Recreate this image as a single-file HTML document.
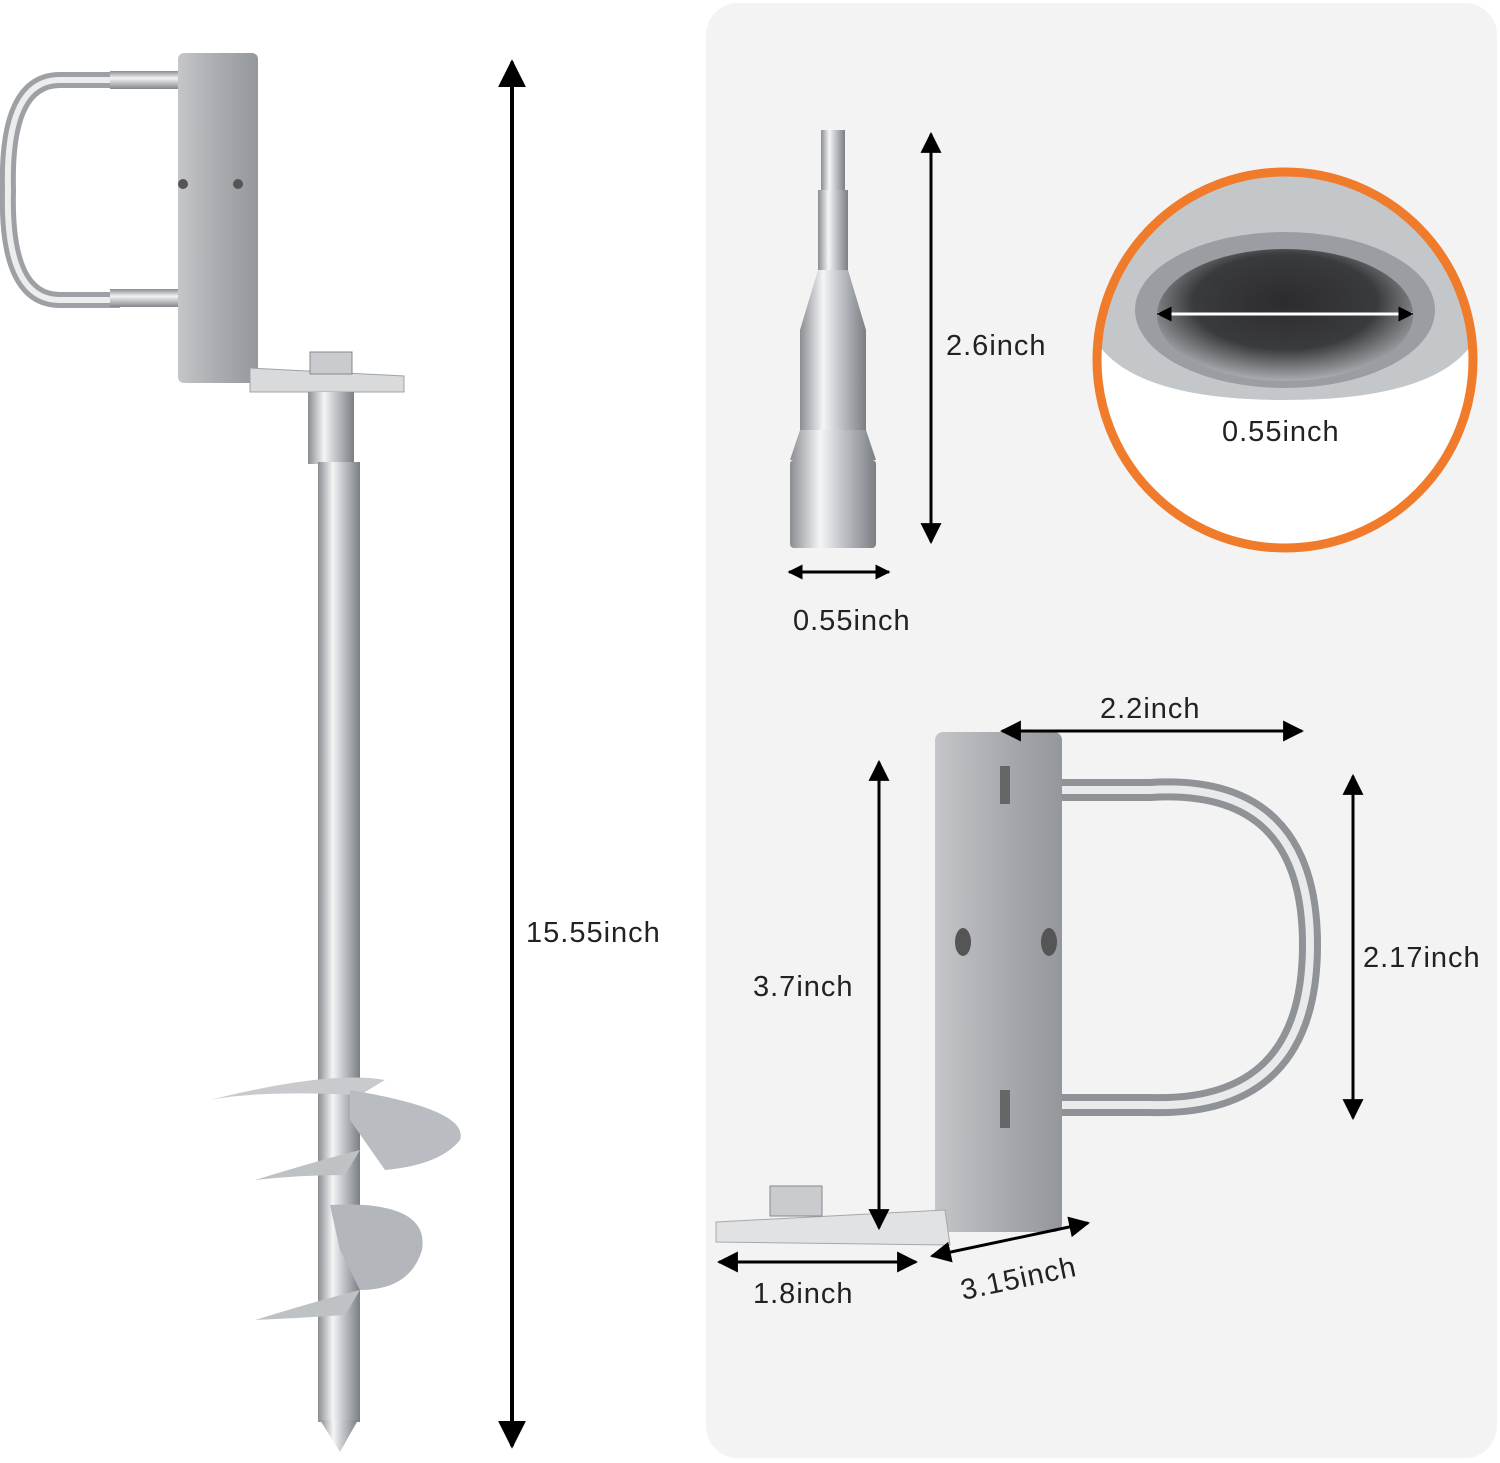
<!DOCTYPE html>
<html><head><meta charset="utf-8"><style>
html,body{margin:0;padding:0;background:#fff;}
svg{display:block;}
text{font-family:"Liberation Sans",sans-serif;fill:#222;letter-spacing:1px;}
</style></head><body>
<svg width="1500" height="1463" viewBox="0 0 1500 1463" xmlns="http://www.w3.org/2000/svg">
<defs>
<linearGradient id="metalH" x1="0" x2="1" y1="0" y2="0">
<stop offset="0" stop-color="#8a8d92"/><stop offset="0.35" stop-color="#f4f5f6"/><stop offset="0.6" stop-color="#c2c5c9"/><stop offset="1" stop-color="#7b7e83"/></linearGradient>
<linearGradient id="metalV" x1="0" x2="0" y1="0" y2="1">
<stop offset="0" stop-color="#8a8d92"/><stop offset="0.4" stop-color="#f2f3f4"/><stop offset="1" stop-color="#83868b"/></linearGradient>
<linearGradient id="plate" x1="0" x2="1">
<stop offset="0" stop-color="#c4c6c9"/><stop offset="0.5" stop-color="#a9acb0"/><stop offset="1" stop-color="#94979b"/></linearGradient>
<radialGradient id="sock" cx="0.5" cy="0.4" r="0.6">
<stop offset="0" stop-color="#2c2c2e"/><stop offset="0.6" stop-color="#3a3b3d"/><stop offset="1" stop-color="#a9acb0"/></radialGradient>
<clipPath id="cc"><circle cx="1285" cy="360" r="186"/></clipPath>
<marker id="ah" viewBox="0 0 10 10" refX="9" refY="5" markerWidth="7" markerHeight="7" orient="auto-start-reverse"><path d="M0,0 L10,5 L0,10 z" fill="#000"/></marker>
<marker id="ahs" viewBox="0 0 10 10" refX="9" refY="5" markerWidth="5" markerHeight="5" orient="auto-start-reverse"><path d="M0,0 L10,5 L0,10 z" fill="#000"/></marker>
</defs>

<rect x="706" y="3" width="791" height="1455" rx="32" fill="#f3f3f3"/>

<!-- LEFT: auger -->
<path d="M120,80 L60,80 Q5,80 8,190 Q5,300 60,300 L120,300" fill="none" stroke="#9da0a4" stroke-width="16"/>
<path d="M120,80 L60,80 Q5,80 8,190 Q5,300 60,300 L120,300" fill="none" stroke="#eceded" stroke-width="6"/>
<rect x="110" y="71" width="110" height="18" fill="url(#metalV)"/>
<rect x="110" y="289" width="110" height="18" fill="url(#metalV)"/>
<rect x="178" y="53" width="80" height="330" rx="6" fill="url(#plate)"/>
<circle cx="183" cy="184" r="5" fill="#555"/><circle cx="238" cy="184" r="5" fill="#555"/>
<path d="M250,368 L404,376 L404,392 L250,392 Z" fill="#d8dadc" stroke="#a0a3a7"/>
<rect x="310" y="352" width="42" height="22" fill="#c9cbce" stroke="#888"/>
<rect x="308" y="392" width="46" height="72" fill="url(#metalH)"/>
<rect x="318" y="462" width="42" height="960" fill="url(#metalH)"/>
<path d="M320,1420 L358,1420 L340,1452 Z" fill="url(#metalH)"/>
<path d="M210,1100 Q330,1070 385,1080 L360,1095 Q260,1090 210,1100 Z" fill="#c8cacd"/>
<path d="M350,1090 Q470,1110 460,1140 Q440,1165 385,1170 L350,1120 Z" fill="#b9bcc0"/>
<path d="M255,1180 Q320,1160 360,1150 L345,1175 Q300,1175 255,1180 Z" fill="#bfc2c5"/>
<path d="M330,1205 Q430,1200 422,1250 Q410,1290 360,1290 L340,1250 Z" fill="#b3b6ba"/>
<path d="M255,1320 Q320,1300 360,1290 L345,1315 Q300,1318 255,1320 Z" fill="#bfc2c5"/>

<line x1="512" y1="62" x2="512" y2="1446" stroke="#000" stroke-width="4" marker-start="url(#ah)" marker-end="url(#ah)"/>
<text x="526" y="942" font-size="29">15.55inch</text>

<!-- bit socket -->
<rect x="821" y="130" width="24" height="60" fill="url(#metalH)"/>
<rect x="818" y="190" width="30" height="80" fill="url(#metalH)"/>
<path d="M818,270 L800,330 L866,330 L848,270 Z" fill="url(#metalH)"/>
<rect x="800" y="330" width="66" height="100" fill="url(#metalH)"/>
<path d="M800,430 L790,460 L876,460 L866,430 Z" fill="url(#metalH)"/>
<rect x="790" y="460" width="86" height="88" rx="4" fill="url(#metalH)"/>
<line x1="931" y1="134" x2="931" y2="542" stroke="#000" stroke-width="3" marker-start="url(#ah)" marker-end="url(#ah)"/>
<text x="946" y="355" font-size="29">2.6inch</text>
<line x1="789" y1="572" x2="889" y2="572" stroke="#000" stroke-width="3" marker-start="url(#ahs)" marker-end="url(#ahs)"/>
<text x="793" y="630" font-size="29">0.55inch</text>

<!-- zoom circle -->
<circle cx="1285" cy="360" r="188" fill="#fff"/>
<g clip-path="url(#cc)">
<path d="M1090,160 L1480,160 L1480,330 Q1450,400 1285,400 Q1120,400 1090,330 Z" fill="#c4c7ca"/>
<ellipse cx="1285" cy="310" rx="150" ry="78" fill="#9a9da1"/>
<ellipse cx="1285" cy="315" rx="128" ry="66" fill="url(#sock)"/>
</g>
<circle cx="1285" cy="360" r="188" fill="none" stroke="#f07b2a" stroke-width="9"/>
<line x1="1158" y1="314" x2="1412" y2="314" stroke="#fff" stroke-width="3" marker-start="url(#ahs)" marker-end="url(#ahs)"/>
<text x="1222" y="441" font-size="29">0.55inch</text>

<!-- bracket bottom right -->
<path d="M1008,790 L1150,790 Q1310,780 1310,945 Q1310,1110 1150,1105 L1008,1105" fill="none" stroke="#8f9296" stroke-width="22"/>
<path d="M1008,790 L1150,790 Q1310,780 1310,945 Q1310,1110 1150,1105 L1008,1105" fill="none" stroke="#e9eaeb" stroke-width="8"/>
<rect x="935" y="732" width="127" height="500" rx="8" fill="url(#plate)"/>
<rect x="1000" y="766" width="10" height="38" fill="#666"/>
<rect x="1000" y="1090" width="10" height="38" fill="#666"/>
<ellipse cx="963" cy="942" rx="8" ry="14" fill="#555"/><ellipse cx="1049" cy="942" rx="8" ry="14" fill="#555"/>
<path d="M716,1222 L945,1210 L950,1245 L716,1242 Z" fill="#e1e2e4" stroke="#a5a8ac"/>
<rect x="770" y="1186" width="52" height="30" fill="#c9cbce" stroke="#888"/>

<line x1="1002" y1="731" x2="1302" y2="731" stroke="#000" stroke-width="3" marker-start="url(#ah)" marker-end="url(#ah)"/>
<text x="1100" y="718" font-size="29">2.2inch</text>
<line x1="1353" y1="776" x2="1353" y2="1118" stroke="#000" stroke-width="3" marker-start="url(#ah)" marker-end="url(#ah)"/>
<text x="1363" y="967" font-size="29">2.17inch</text>
<line x1="879" y1="762" x2="879" y2="1228" stroke="#000" stroke-width="3" marker-start="url(#ah)" marker-end="url(#ah)"/>
<text x="753" y="996" font-size="29">3.7inch</text>
<line x1="719" y1="1262" x2="916" y2="1262" stroke="#000" stroke-width="3" marker-start="url(#ah)" marker-end="url(#ah)"/>
<text x="753" y="1303" font-size="29">1.8inch</text>
<line x1="932" y1="1256" x2="1088" y2="1223" stroke="#000" stroke-width="3" marker-start="url(#ah)" marker-end="url(#ah)"/>
<text x="963" y="1300" font-size="29" transform="rotate(-12 963 1300)">3.15inch</text>
</svg>
</body></html>
